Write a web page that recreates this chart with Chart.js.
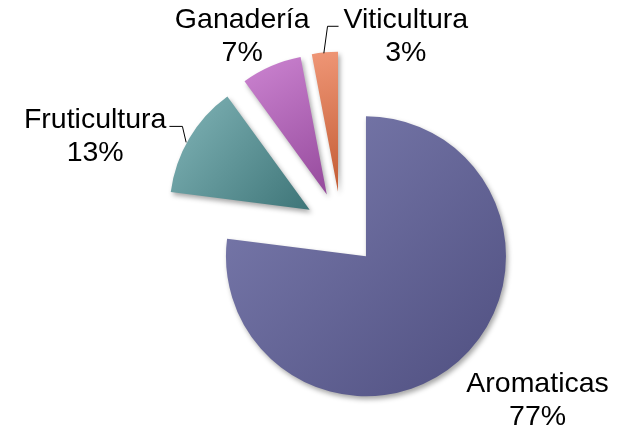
<!DOCTYPE html>
<html>
<head>
<meta charset="utf-8">
<script src="https://cdn.jsdelivr.net/npm/chart.js@4"></script>
<style>
  html, body { margin: 0; padding: 0; background: #fff; }
  #wrap { width: 625px; height: 427px; }
</style>
</head>
<body>
<div id="wrap"><canvas id="pieChart" width="625" height="427"></canvas></div>
<script>
const sectors = ['Aromaticas', 'Fruticultura', 'Ganadería', 'Viticultura']
const shares = [77, 13, 7, 3]

// light / dark ends of each slice's gradient
const lightColors = ['#7d7eb0', '#82b5b8', '#cc84d1', '#ef9676']
const darkColors = ['#4f4f80', '#3e7578', '#954a9c', '#c35c34']

// label placement relative to the outer point of each slice (dx, dy of first baseline)
const labelShift = [[79, 31], [-94, -10], [-29, -38], [81, -24]]
const leaderOn = [false, true, false, true]

const EXPLODE = 37
const FONT = '28.5px "Liberation Sans", Arial, sans-serif'
const LINE_GAP = 33

function outerPoint(el, extra) {
    const mid = (el.startAngle + el.endAngle) / 2
    const r = el.outerRadius + (extra || 0)
    return { x: el.x + Math.cos(mid) * r, y: el.y + Math.sin(mid) * r }
}

const explodePlugin = {
    id: 'explode',
    afterDatasetsUpdate(chart) {
        const meta = chart.getDatasetMeta(0)
        const c = chart.ctx
        meta.data.forEach((el, i) => {
            const mid = (el.startAngle + el.endAngle) / 2
            el.x += Math.cos(mid) * EXPLODE
            el.y += Math.sin(mid) * EXPLODE
            // bounding box of the slice for the gradient
            let minX = el.x, maxX = el.x, minY = el.y, maxY = el.y
            for (let k = 0; k <= 40; k++) {
                const a = el.startAngle + (el.endAngle - el.startAngle) * k / 40
                const px = el.x + Math.cos(a) * el.outerRadius
                const py = el.y + Math.sin(a) * el.outerRadius
                minX = Math.min(minX, px); maxX = Math.max(maxX, px)
                minY = Math.min(minY, py); maxY = Math.max(maxY, py)
            }
            const g = c.createLinearGradient(minX, minY, maxX, maxY)
            g.addColorStop(0, lightColors[i])
            g.addColorStop(1, darkColors[i])
            el.options = Object.assign({}, el.options, { backgroundColor: g })
        })
    },
    beforeDatasetDraw(chart) {
        const c = chart.ctx
        c.save()
        c.shadowColor = 'rgba(0,0,0,0.35)'
        c.shadowBlur = 5
        c.shadowOffsetX = 2
        c.shadowOffsetY = 3
    },
    afterDatasetDraw(chart) {
        chart.ctx.restore()
    },
    afterDraw(chart) {
        const meta = chart.getDatasetMeta(0)
        const c = chart.ctx
        const total = shares.reduce((a, b) => a + b, 0)
        c.save()
        c.font = FONT
        c.fillStyle = '#000'
        c.textAlign = 'center'
        c.textBaseline = 'alphabetic'
        meta.data.forEach((el, i) => {
            const p = outerPoint(el)
            const lx = p.x + labelShift[i][0]
            const ly = p.y + labelShift[i][1]
            c.fillText(sectors[i], lx, ly)
            c.fillText(Math.round(shares[i] / total * 100) + '%', lx, ly + LINE_GAP)
            if (leaderOn[i]) {
                const w = c.measureText(sectors[i]).width
                const lineY = ly - 2
                const left = lx < p.x
                const startX = left ? lx + w / 2 + 3 : lx - w / 2 - 5
                const cornerX = left ? startX + 13 : startX - 11
                c.beginPath()
                c.strokeStyle = '#000'
                c.lineWidth = 1
                c.moveTo(startX, lineY)
                c.lineTo(cornerX, lineY)
                c.lineTo(p.x - (left ? 3 : 1), p.y + (left ? 4 : 1))
                c.stroke()
            }
        })
        c.restore()
    }
}

const ctx = document.getElementById('pieChart').getContext('2d')
const pieChart = new Chart(ctx, {
    type: 'pie',
    data: {
        labels: sectors,
        datasets: [{
            data: shares,
            backgroundColor: darkColors,
            borderWidth: 0
        }]
    },
    options: {
        responsive: false,
        animation: false,
        radius: 140,
        layout: { padding: { left: 58, right: 0, top: 30, bottom: 0 } },
        plugins: {
            legend: { display: false },
            tooltip: { enabled: false }
        }
    },
    plugins: [explodePlugin]
});
</script>
</body>
</html>
